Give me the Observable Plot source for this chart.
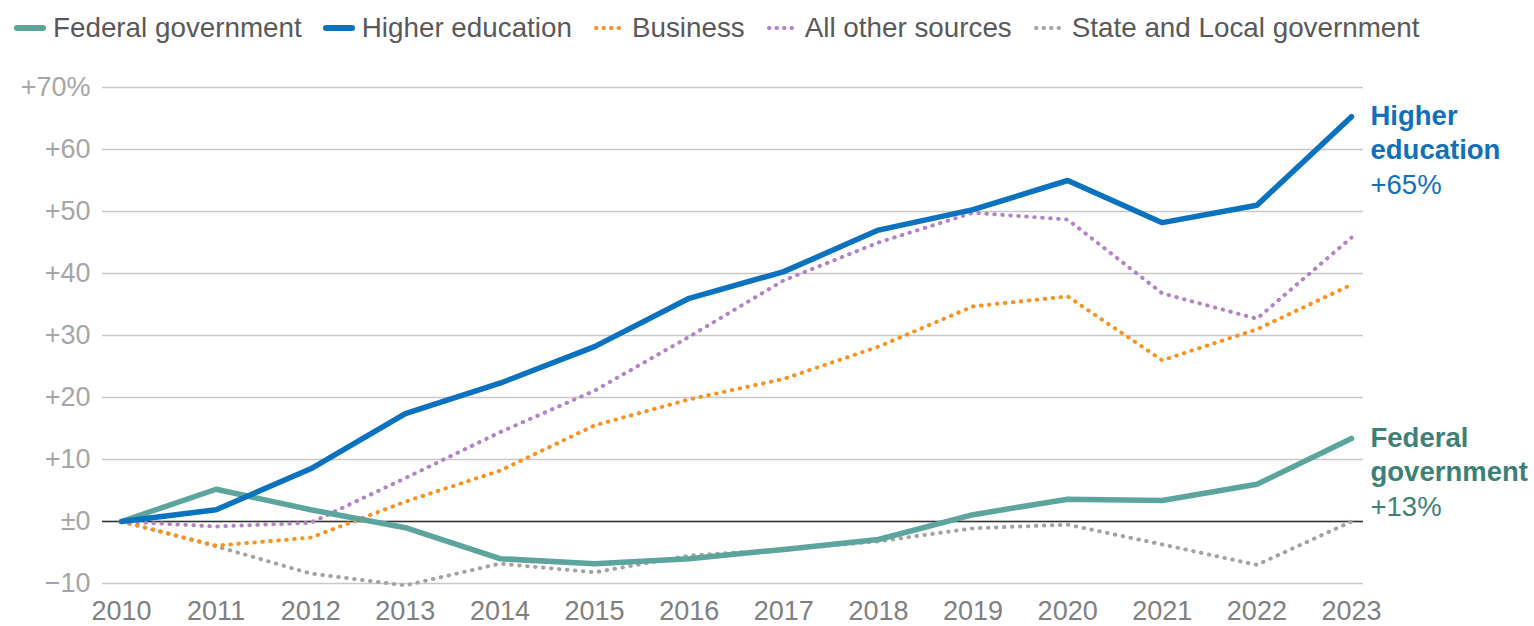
<!DOCTYPE html>
<html>
<head>
<meta charset="utf-8">
<script src="https://cdn.jsdelivr.net/npm/d3@7"></script>
<script src="https://cdn.jsdelivr.net/npm/@observablehq/plot@0.6"></script>
<style>
  html, body { margin: 0; padding: 0; background: #fff; }
  body { font-family: "Liberation Sans", Arial, sans-serif; width: 1534px; height: 626px; overflow: hidden; }
  #legend { height: 56px; display: flex; align-items: center; padding-left: 14px; box-sizing: border-box; font-size: 27.8px; color: #595959; white-space: nowrap; }
  .item { display: flex; align-items: center; margin-right: 21px; }
  .item svg { margin-right: 7px; }
  #chart svg { display: block; }
</style>
</head>
<body>
<div id="legend"></div>
<div id="chart"></div>
<script>
const years = [2010, 2011, 2012, 2013, 2014, 2015, 2016, 2017, 2018, 2019, 2020, 2021, 2022, 2023];
const seriesNames = ["Federal government", "Higher education", "Business", "All other sources", "State and Local government"];
const federal    = [0, 5.2, 1.9, -1.0, -6.0, -6.8, -6.0, -4.5, -2.9, 1.1, 3.6, 3.4, 6.0, 13.4];
const higherEd   = [0, 1.9, 8.5, 17.4, 22.3, 28.2, 36.0, 40.3, 47.0, 50.3, 55.0, 48.2, 51.0, 65.3];
const business   = [0, -3.9, -2.6, 3.2, 8.2, 15.5, 19.7, 23.0, 28.2, 34.7, 36.3, 26.0, 31.0, 38.2];
const allOther   = [0, -0.8, -0.2, 7.0, 14.4, 21.1, 29.8, 38.9, 45.0, 49.8, 48.7, 36.8, 32.7, 45.8];
const stateLocal = [0, -4.0, -8.4, -10.3, -6.8, -8.2, -5.5, -4.5, -3.2, -1.1, -0.5, -3.7, -7.0, 0];
const yTicks = [-10, 0, 10, 20, 30, 40, 50, 60, 70];
const colors = {
  "Federal government": "#5ba59c",
  "Higher education": "#0a72bf",
  "Business": "#f7931e",
  "All other sources": "#b482c8",
  "State and Local government": "#a3a3a3"
};
const labelColors = { "Federal government": "#3d8078", "Higher education": "#1170bb" };
const dotted = { "Business": true, "All other sources": true, "State and Local government": true };

const valuesBy = {
  "Federal government": federal,
  "Higher education": higherEd,
  "Business": business,
  "All other sources": allOther,
  "State and Local government": stateLocal
};
const rows = [];
for (const s of seriesNames) valuesBy[s].forEach((v, i) => rows.push({ series: s, year: years[i], value: v }));

const yFmt = d => d === 70 ? "+70%" : d === 0 ? "\u00b10" : d > 0 ? "+" + d : "\u2212" + Math.abs(d);

// Legend
const legend = document.getElementById("legend");
for (const s of seriesNames) {
  const item = document.createElement("div");
  item.className = "item";
  const dash = dotted[s] ? 'stroke-dasharray="0.5 7" stroke-width="4"' : 'stroke-width="6"';
  item.innerHTML = `<svg width="32" height="10"><line x1="3" y1="5" x2="29" y2="5" stroke="${colors[s]}" stroke-linecap="round" ${dash}/></svg><span>${s}</span>`;
  legend.appendChild(item);
}

const endLabels = [
  { series: "Higher education", lines: "Higher\neducation", year: years[years.length - 1], value: higherEd[higherEd.length - 1] },
  { series: "Federal government", lines: "Federal\ngovernment", year: years[years.length - 1], value: federal[federal.length - 1] }
];

const dottedOrder = ["State and Local government", "Business", "All other sources"];
const lineMarks = [];
for (const s of dottedOrder) {
  lineMarks.push(Plot.line(rows.filter(r => r.series === s), {
    x: "year", y: "value", stroke: colors[s], strokeWidth: 4, strokeDasharray: "0.5 7.5", strokeLinecap: "round", strokeLinejoin: "round"
  }));
}
for (const s of ["Federal government", "Higher education"]) {
  lineMarks.push(Plot.line(rows.filter(r => r.series === s), {
    x: "year", y: "value", stroke: colors[s], strokeWidth: 5.5, strokeLinecap: "round", strokeLinejoin: "round"
  }));
}

const chart = Plot.plot({
  width: 1534,
  height: 570,
  marginLeft: 102,
  marginRight: 171,
  marginTop: 31,
  marginBottom: 43,
  style: { fontFamily: "'Liberation Sans', Arial, sans-serif", fontSize: "27px", background: "#fff", overflow: "visible" },
  x: { domain: [2010, 2023], insetLeft: 19, insetRight: 12 },
  y: { domain: [-10, 70] },
  marks: [
    Plot.ruleY(yTicks, { stroke: "#c8c8c8", strokeWidth: 1.5 }),
    Plot.ruleY([0], { stroke: "#333333", strokeWidth: 1.5 }),
    Plot.axisY({ ticks: yTicks, tickSize: 0, tickPadding: 12, tickFormat: yFmt, fill: "#a6a6a6", label: null }),
    Plot.axisX({ ticks: years, tickSize: 0, tickPadding: 17, tickFormat: d => String(d), fill: "#808080", label: null }),
    ...lineMarks,
    Plot.text(endLabels, {
      x: "year", y: "value", text: "lines", dx: 19, dy: -15, textAnchor: "start", lineAnchor: "top",
      lineHeight: 1.22, fontWeight: "bold", fontSize: 27.5, fill: d => labelColors[d.series]
    }),
    Plot.text(endLabels, {
      x: "year", y: "value", text: d => "+" + Math.round(d.value) + "%", dx: 19, dy: 69, textAnchor: "start",
      fontSize: 27.5, fill: d => labelColors[d.series]
    })
  ]
});
document.getElementById("chart").appendChild(chart);
</script>
</body>
</html>
